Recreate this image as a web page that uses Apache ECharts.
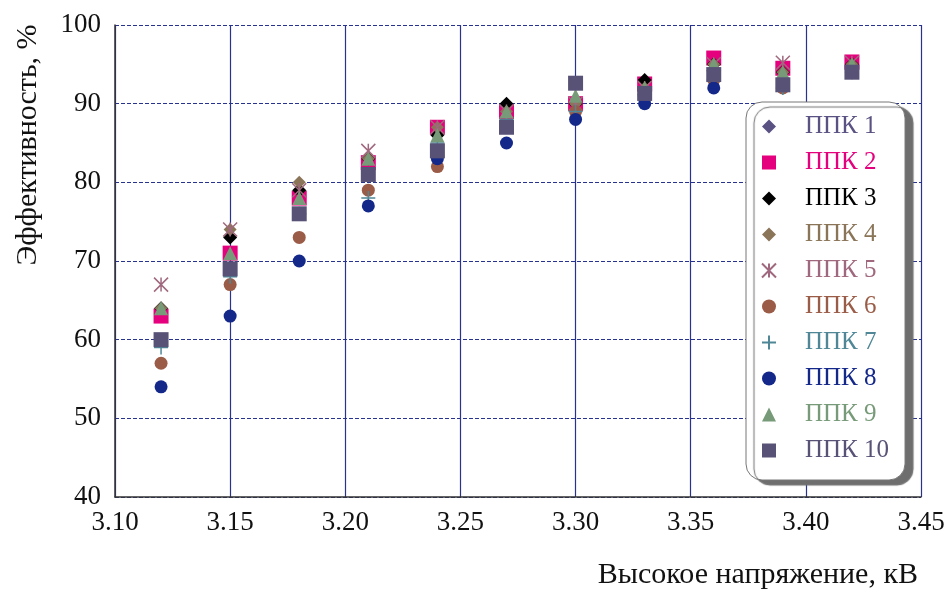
<!DOCTYPE html>
<html>
<head>
<meta charset="utf-8">
<script src="https://cdn.jsdelivr.net/npm/echarts@6/dist/echarts.min.js"></script>
<style>
  html, body { margin: 0; padding: 0; background: #fff; }
  #chart { width: 951px; height: 590px; }
</style>
</head>
<body>
<div id="chart"></div>
<script>
// Voltage values (kV) along the horizontal axis
const voltages = [3.12, 3.15, 3.18, 3.21, 3.24, 3.27, 3.30, 3.33, 3.36, 3.39, 3.42];

// Efficiency (%) for each collector
const ppk1  = [63, 71, 78, 82.5, 86.5, 89, 90, 92, 95.5, 94.5, 95];
const ppk2  = [63, 71, 78, 82.5, 87, 89, 90, 92.5, 95.8, 94.5, 95.3];
const ppk3  = [64, 73, 79, 83, 86, 90, 90, 93, 95, 94, 95];
const ppk4  = [64, 74, 80, 83, 87, 89, 90, 92, 95, 94, 95];
const ppk5  = [67, 74, 79, 84, 87, 89, 90, 92, 95, 95.2, 95.2];
const ppk6  = [57, 67, 73, 79, 82, 87, 89, 91, 93, 92, 94];
const ppk7  = [59, 68, 76, 78, 85, 88, 89, 91, 93, 92, 94];
const ppk8  = [54, 63, 70, 77, 83, 85, 88, 90, 92, 92.5, 94];
const ppk9  = [64, 71, 78, 83, 86, 89, 91, 92, 95, 94, 95];
const ppk10 = [60, 69, 76, 81, 84, 87, 92.6, 91.3, 93.7, 92.4, 94];

const seriesNames = ['ППК 1', 'ППК 2', 'ППК 3', 'ППК 4', 'ППК 5', 'ППК 6', 'ППК 7', 'ППК 8', 'ППК 9', 'ППК 10'];
const seriesValues = [ppk1, ppk2, ppk3, ppk4, ppk5, ppk6, ppk7, ppk8, ppk9, ppk10];

// Axis ticks
const xTicks = [3.10, 3.15, 3.20, 3.25, 3.30, 3.35, 3.40, 3.45];
const yTicks = [40, 50, 60, 70, 80, 90, 100];

const colors = ['#5a5282', '#e5007d', '#000000', '#8a7558', '#a0687e', '#9a5c47', '#4f8797', '#14288a', '#779a78', '#595277'];

const starPath = 'path://M0,0L10,10M10,0L0,10M5,0L5,10';
const plusPath = 'path://M5,0L5,10M0,5L10,5';

const markers = [
  { symbol: 'diamond', size: 13 },
  { symbol: 'rect', size: 15 },
  { symbol: 'diamond', size: 14 },
  { symbol: 'diamond', size: 13 },
  { symbol: starPath, size: 14, stroke: true },
  { symbol: 'circle', size: 13 },
  { symbol: plusPath, size: 14, stroke: true },
  { symbol: 'circle', size: 13 },
  { symbol: 'triangle', size: 14 },
  { symbol: 'rect', size: 15 }
];

const FONT = '"Liberation Serif", "DejaVu Serif", serif';

const series = seriesNames.map((name, i) => {
  const m = markers[i];
  const itemStyle = m.stroke
    ? { color: 'rgba(0,0,0,0)', borderColor: colors[i], borderWidth: 1.5, opacity: 1 }
    : { color: colors[i], opacity: 1 };
  return {
    name: name,
    type: 'scatter',
    symbol: m.symbol,
    symbolSize: m.size,
    itemStyle: itemStyle,
    data: voltages.map((v, j) => [v, seriesValues[i][j]]),
    z: 3 + i
  };
});

const chart = echarts.init(document.getElementById('chart'));
chart.setOption({
  animation: false,
  backgroundColor: '#ffffff',
  grid: { left: 115, right: 30, top: 25, bottom: 93 },
  xAxis: {
    type: 'value',
    min: xTicks[0],
    max: xTicks[xTicks.length - 1],
    interval: 0.05,
    axisLine: { show: true, onZero: false, lineStyle: { color: '#333', width: 1.5 } },
    axisTick: { show: false },
    axisLabel: {
      color: '#111', fontFamily: FONT, fontSize: 27, margin: 12,
      formatter: v => v.toFixed(2)
    },
    splitLine: { show: true, lineStyle: { color: '#28338f', width: 1.2, type: 'solid' } }
  },
  yAxis: {
    type: 'value',
    min: yTicks[0],
    max: yTicks[yTicks.length - 1],
    interval: 10,
    axisLine: { show: true, onZero: false, lineStyle: { color: '#333', width: 1.5 } },
    axisTick: { show: false },
    axisLabel: { color: '#111', fontFamily: FONT, fontSize: 27, margin: 14 },
    splitLine: { show: true, lineStyle: { color: '#28338f', width: 1, type: [4, 2] } }
  },
  legend: {
    orient: 'vertical',
    left: 746,
    top: 102,
    padding: [12, 16, 17, 15],
    itemGap: 11,
    itemWidth: 14,
    itemHeight: 14,
    backgroundColor: '#ffffff',
    borderColor: '#777',
    borderWidth: 1,
    borderRadius: 16,
    shadowColor: '#6e6e6e',
    shadowBlur: 1,
    shadowOffsetX: 8,
    shadowOffsetY: 5,
    data: seriesNames.map((n, i) => ({
      name: n,
      textStyle: { color: colors[i] }
    })),
    textStyle: {
      fontFamily: FONT,
      fontSize: 25,
      padding: [0, 0, 0, 24]
    }
  },
  graphic: [
    {
      type: 'text',
      x: 28, y: 145,
      rotation: Math.PI / 2,
      style: {
        text: 'Эффективность, %',
        fontFamily: FONT, fontSize: 30, fill: '#111',
        textAlign: 'center', textVerticalAlign: 'middle'
      }
    },
    {
      type: 'text',
      right: 33, top: 560,
      style: {
        text: 'Высокое напряжение, кВ',
        fontFamily: FONT, fontSize: 30, fill: '#111'
      }
    }
  ],
  series: series
});
</script>
</body>
</html>
